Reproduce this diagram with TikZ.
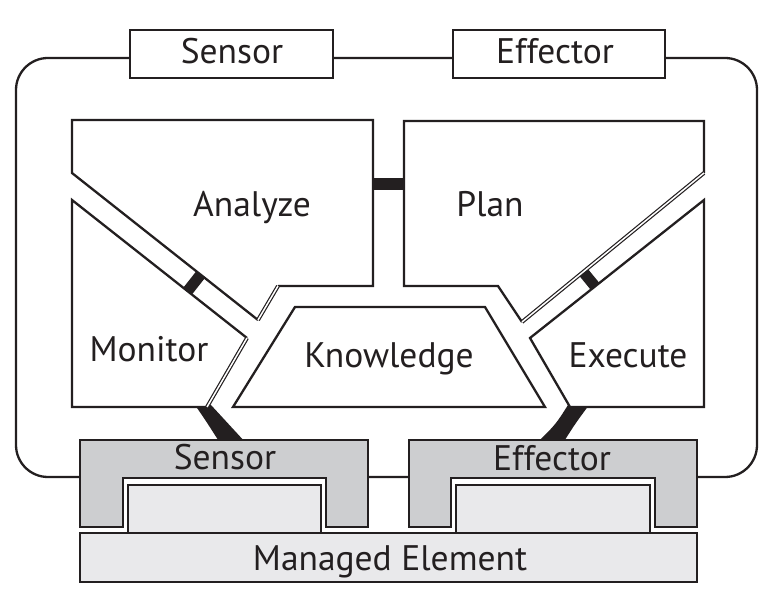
\documentclass[tikz,border=0pt]{standalone}
\usepackage{fontspec}
\setmainfont{PT Sans}
\definecolor{ink}{RGB}{35,31,32}
\definecolor{gboxfill}{RGB}{205,206,208}
\definecolor{lboxfill}{RGB}{233,233,235}
\tikzset{
  outline/.style={draw=ink, line width=2.3pt, line join=miter},
  dbl/.style={draw=ink, line width=1.2pt, double=white, double distance=1.5pt},
  link/.style={fill=ink},
  chanbar/.style={draw=ink, line width=11pt},
  lbl/.style={text=ink, font=\fontsize{35.5}{42}\selectfont, inner sep=0pt, anchor=base},
}
\begin{document}
\begin{tikzpicture}[x=1pt,y=-1pt]
\useasboundingbox (0,0) rectangle (772,612);
% outer loop
\draw[outline, rounded corners=32pt] (16,58) rectangle (757,477);
% top sensor / effector boxes
\filldraw[outline, fill=white] (130,30) rectangle (333,78);
\filldraw[outline, fill=white] (453,30) rectangle (665,78);
% bars (under the panels)
\draw[draw=ink, line width=12pt] (370,184) -- (407,184);
\draw[chanbar] (194,283) ++(13.0,-16.5) -- ++(-26.0,33.0);
\draw[chanbar] (589,279) ++(-13.2,-16.1) -- ++(26.4,32.2);
% links to touchpoints
\fill[link] (195,405) .. controls (206,421) .. (220,443) -- (246,443) .. controls (228,424) .. (211,405) -- cycle;
\fill[link] (568,405) .. controls (556,424) .. (537,443) -- (563,443) .. controls (575,424) .. (589,405) -- cycle;
% Analyze
\fill[white] (72,120) -- (373,120) -- (373,286) -- (278,286) -- (258,320) -- (72,173) -- cycle;
\draw[outline] (258,320) -- (72,173) -- (72,120) -- (373,120) -- (373,286) -- (278,286);
\draw[dbl] (278,286) -- (258,320);
% Monitor
\fill[white] (72,200) -- (247,338) -- (207,407) -- (72,407) -- cycle;
\draw[outline] (207,407) -- (72,407) -- (72,200) -- (247,338);
\draw[dbl] (247,338) -- (207,407);
% Plan
\fill[white] (404,121) -- (704,121) -- (704,173) -- (522,322) -- (498,286) -- (404,286) -- cycle;
\draw[outline] (704,173) -- (704,121) -- (404,121) -- (404,286) -- (498,286) -- (522,322);
\draw[dbl] (522,322) -- (704,173);
% Execute
\filldraw[outline, fill=white] (704,200) -- (704,407) -- (570,407) -- (530,338) -- cycle;
% Knowledge
\filldraw[outline, fill=white] (295,307) -- (485,307) -- (545,407) -- (233,407) -- cycle;
% touchpoint boxes
\filldraw[outline, fill=gboxfill] (80,440) -- (368,440) -- (368,527) -- (326,527) -- (326,478) -- (123,478) -- (123,527) -- (80,527) -- cycle;
\filldraw[outline, fill=gboxfill] (409,440) -- (697,440) -- (697,527) -- (655,527) -- (655,478) -- (451,478) -- (451,527) -- (409,527) -- cycle;
\filldraw[outline, fill=lboxfill] (128,485) rectangle (321,533);
\filldraw[outline, fill=lboxfill] (456,485) rectangle (650,533);
\filldraw[outline, fill=lboxfill] (80,533) rectangle (697,582);
% labels
\node[lbl] (tsensor) at (232,64) {Sensor};
\node[lbl] (teffector) at (555,64) {Effector};
\node[lbl] (analyze) at (252,217) {Analyze};
\node[lbl] (plan) at (490,217) {Plan};
\node[lbl] (monitor) at (149,362) {Monitor};
\node[lbl] (knowledge) at (389,368) {Knowledge};
\node[lbl] (execute) at (628,368) {Execute};
\node[lbl] (bsensor) at (225,470) {Sensor};
\node[lbl] (beffector) at (552,471) {Effector};
\node[lbl] (managed) at (390,570) {Managed Element};
\end{tikzpicture}
\end{document}
